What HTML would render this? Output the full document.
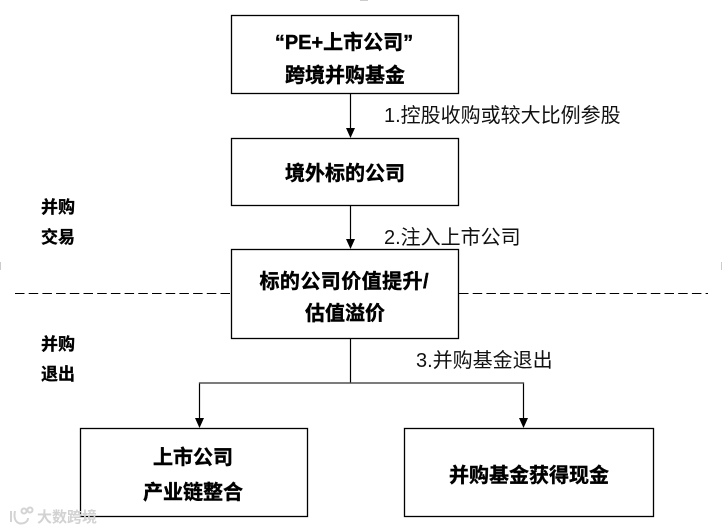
<!DOCTYPE html>
<html>
<head>
<meta charset="utf-8">
<style>
html,body{margin:0;padding:0;background:#fff;overflow:hidden;}
svg{display:block;}
text{font-family:"Liberation Sans","Noto Sans CJK SC",sans-serif;fill:#000;}
.b{font-weight:700;font-size:20px;text-anchor:middle;stroke:#000;stroke-width:.4px;}
.s{font-weight:700;font-size:17px;stroke:#000;stroke-width:.3px;}
.l{font-size:20px;fill:#111;}
</style>
</head>
<body>
<svg width="722" height="531" viewBox="0 0 722 531" xmlns="http://www.w3.org/2000/svg">
<rect width="722" height="531" fill="#fff"/>
<g fill="#fff" stroke="#000" stroke-width="1.3">
<rect x="231.5" y="15.5" width="227" height="78"/>
<rect x="231.5" y="138.5" width="227" height="67"/>
<rect x="231.5" y="249.5" width="227" height="89"/>
<rect x="80.5" y="428.5" width="227" height="88"/>
<rect x="404.5" y="428.5" width="249" height="88"/>
</g>
<g stroke="#000" stroke-width="1.2" fill="none">
<line x1="350.5" y1="94" x2="350.5" y2="130"/>
<line x1="350.5" y1="206" x2="350.5" y2="241"/>
<polyline points="350.5,339 350.5,383"/>
<polyline points="199.5,420 199.5,383 523.5,383 523.5,420"/>
</g>
<line x1="199" y1="383" x2="524" y2="383" stroke="#555" stroke-width="1.2"/>
<g fill="#000">
<polygon points="346,128 355,128 350.5,138"/>
<polygon points="346,239 355,239 350.5,249"/>
<polygon points="195,418 204,418 199.5,428"/>
<polygon points="519,418 528,418 523.5,428"/>
</g>
<g stroke="#000" stroke-width="1" stroke-dasharray="9.5 4.2">
<line x1="15" y1="293.5" x2="231" y2="293.5"/>
<line x1="459" y1="293.5" x2="708" y2="293.5"/>
</g>
<text class="b" x="344" y="49">“PE+上市公司”</text>
<text class="b" x="345" y="82">跨境并购基金</text>
<text class="b" x="345" y="180">境外标的公司</text>
<text class="b" x="344" y="288" textLength="169" lengthAdjust="spacing">标的公司价值提升/</text>
<text class="b" x="345" y="320">估值溢价</text>
<text class="b" x="193" y="464">上市公司</text>
<text class="b" x="193" y="499">产业链整合</text>
<text class="b" x="529" y="482">并购基金获得现金</text>
<text class="s" x="41" y="213">并购</text>
<text class="s" x="41" y="243">交易</text>
<text class="s" x="41" y="350">并购</text>
<text class="s" x="41" y="380">退出</text>
<text class="l" x="384" y="122">1.控股收购或较大比例参股</text>
<text class="l" x="384" y="244">2.注入上市公司</text>
<text class="l" x="416" y="367">3.并购基金退出</text>
<g fill="none" stroke="#d4d4d4" stroke-width="2">
<path d="M11 511 L11 522"/>
<path d="M15 511 C13 520 17 525 24 523 C27 522 28 520 28 518"/>
<circle cx="24" cy="511" r="2.5"/>
<circle cx="30" cy="510" r="2.5"/>
</g>
<text x="37" y="522" font-size="15" style="fill:#d2d2d2;font-weight:700">大数跨境</text>
<g fill="#ccc">
<rect x="0" y="262" width="1" height="8"/>
<rect x="721" y="262" width="1" height="8"/>
<rect x="360" y="0" width="8" height="1"/>
</g>
</svg>
</body>
</html>
